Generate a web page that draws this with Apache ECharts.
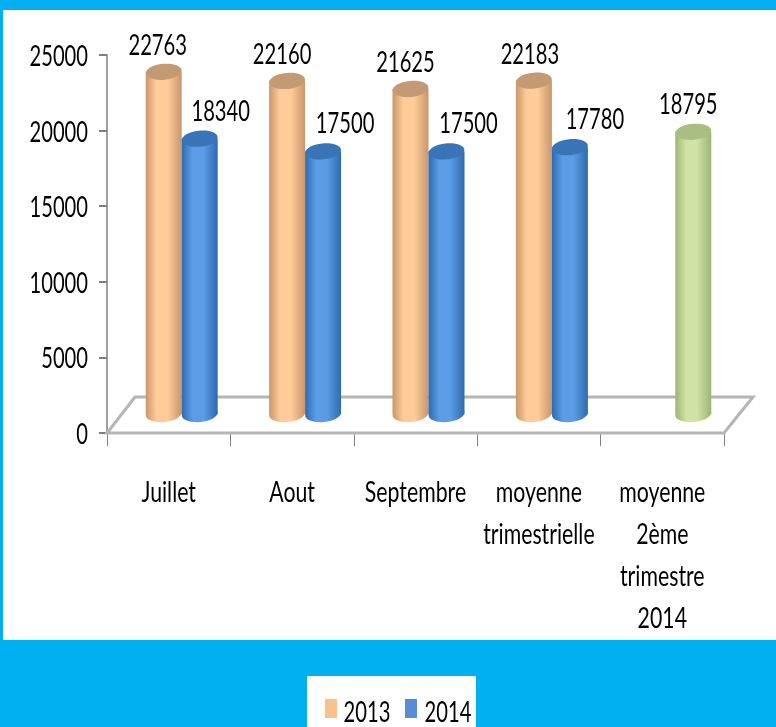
<!DOCTYPE html>
<html>
<head>
<meta charset="utf-8">
<style>html,body{margin:0;padding:0;background:#00B0F0}#main{width:776px;height:727px}</style>
<script src="https://cdn.jsdelivr.net/npm/echarts@6/dist/echarts.min.js"></script>
</head>
<body>
<div id="main"></div>
<script>
var categories = ['Juillet', 'Aout', 'Septembre', 'moyenne\ntrimestrielle', 'moyenne\n2ème\ntrimestre\n2014'];
var values2013 = [22763, 22160, 21625, 22183, null];
var values2014 = [18340, 17500, 17500, 17780, 18795];
var yLabels = [0, 5000, 10000, 15000, 20000, 25000];
var legendNames = ['2013', '2014'];

// the reference text is squeezed horizontally, no condensed font here so scale it
var FONT = '28px Lato, sans-serif';
var SQUEEZE = 0.72;
var SQUEEZE_CAT = 0.76;

var orange = {edge: '#C8976A', mid: '#FFCC99', top: '#C49A74', flat: '#FBC08C'};
var blue = {edge: '#2E6BB0', mid: '#5C9CE6', top: '#3A74B8', flat: '#558ED5'};
var green = {edge: '#9DB474', mid: '#D0E2A4', top: '#A8BE82', flat: '#C3D69B'};

var labelDx2013 = [-6, -5, -5, -4, 0];
var labelDx2014 = [21, 22, 22, 25, -5];

var main = echarts.init(document.getElementById('main'));

function squeezedText(text, x, y, align, squeeze) {
	return {
		type: 'text', x: x, y: y, scaleX: squeeze || SQUEEZE,
		style: {text: text, font: FONT, fill: '#000', align: align || 'center', verticalAlign: 'middle'}
	};
}

// 3d look: the bars stand on a floor that is shifted up and right from the axis
function cylinder(colors, barDx, labelDx, labelDy) {
	return function (params, api) {
		var val = api.value(1);
		if (val == null || isNaN(val)) return;
		var i = api.value(0);
		var c = colors(i);
		var p = api.coord([i, val]);
		var b = api.coord([i, 0]);
		var cx = p[0] + barDx, rx = 18, ry = 8;
		var yTop = p[1] - 17, yBot = b[1] - 19;
		var rot = 0.1;
		var grad = new echarts.graphic.LinearGradient(0, 0, 1, 0, [
			{offset: 0, color: c.edge},
			{offset: 0.3, color: c.mid},
			{offset: 0.6, color: c.mid},
			{offset: 1, color: c.edge}
		]);
		return {
			type: 'group',
			children: [
				{type: 'ellipse', shape: {cx: 0, cy: 0, rx: rx, ry: ry}, x: cx, y: yBot, rotation: rot, style: {fill: grad}},
				{type: 'rect', shape: {x: cx - rx, y: yTop, width: rx * 2, height: yBot - yTop}, style: {fill: grad}},
				{type: 'ellipse', shape: {cx: 0, cy: 0, rx: rx, ry: ry}, x: cx, y: yTop, rotation: rot, style: {fill: c.top}},
				squeezedText(String(val), cx + labelDx[i], yTop + labelDy)
			]
		};
	};
}

var option = {
	backgroundColor: '#00B0F0',
	animation: false,
	graphic: [
		{
			type: 'rect', z: -10, silent: true,
			shape: {x: 3, y: 10, width: 773, height: 630},
			style: {fill: '#fff'}
		},
		{type: 'rect', silent: true, shape: {x: 307, y: 676, width: 169, height: 51}, style: {fill: '#fff'}},
		{type: 'rect', silent: true, shape: {x: 325, y: 699, width: 12, height: 19}, style: {fill: orange.flat}},
		{type: 'rect', silent: true, shape: {x: 405, y: 699, width: 12, height: 19}, style: {fill: blue.flat}},
		squeezedText(legendNames[0], 367, 713),
		squeezedText(legendNames[1], 448, 713)
	],
	grid: {left: 107, right: 52, top: 55, bottom: 294},
	xAxis: {
		type: 'category',
		data: categories,
		axisLine: {lineStyle: {color: '#B5B5B5', width: 2}},
		axisTick: {show: true, length: 13, lineStyle: {color: '#808080', width: 1}},
		axisLabel: {show: false}
	},
	yAxis: {
		type: 'value',
		min: yLabels[0],
		max: yLabels[yLabels.length - 1],
		interval: yLabels[1],
		splitLine: {show: false},
		axisLine: {show: true, lineStyle: {color: '#A0A0A0', width: 2}},
		axisTick: {show: true, length: 8, lineStyle: {color: '#808080', width: 2}},
		axisLabel: {show: false}
	},
	series: [
		{
			name: 'floor',
			type: 'custom',
			silent: true,
			z: 1,
			clip: false,
			data: [[0, 0]],
			renderItem: function (params, api) {
				var a = [params.coordSys.x, api.coord([0, 0])[1]];
				var w = params.coordSys.width;
				return {
					type: 'polygon',
					shape: {points: [[a[0], a[1]], [a[0] + w, a[1]], [a[0] + w + 29, a[1] - 36], [a[0] + 28, a[1] - 36]]},
					style: {fill: 'none', stroke: '#B5B5B5', lineWidth: 3}
				};
			}
		},
		{
			// axis labels, drawn here because axisLabel can't squeeze text
			name: 'axisText',
			type: 'custom',
			silent: true,
			z: 4,
			clip: false,
			data: [[0, 0]],
			renderItem: function (params, api) {
				var kids = [];
				yLabels.forEach(function (v) {
					kids.push(squeezedText(String(v), params.coordSys.x - 19, api.coord([0, v])[1] + 2, 'right'));
				});
				categories.forEach(function (name, i) {
					var p = api.coord([i, 0]);
					name.split('\n').forEach(function (line, k) {
						kids.push(squeezedText(line, p[0], p[1] + 60 + k * 42, 'center', SQUEEZE_CAT));
					});
				});
				return {type: 'group', children: kids};
			}
		},
		{
			name: '2013',
			type: 'custom',
			z: 2,
			clip: false,
			data: values2013.map(function (v, i) { return [i, v]; }),
			renderItem: cylinder(function () { return orange; }, -5, labelDx2013, -26)
		},
		{
			name: '2014',
			type: 'custom',
			z: 3,
			clip: false,
			data: values2014.map(function (v, i) { return [i, v]; }),
			renderItem: cylinder(function (i) { return values2013[i] == null ? green : blue; }, 31, labelDx2014, -27)
		}
	]
};
main.setOption(option);
</script>
</body>
</html>
